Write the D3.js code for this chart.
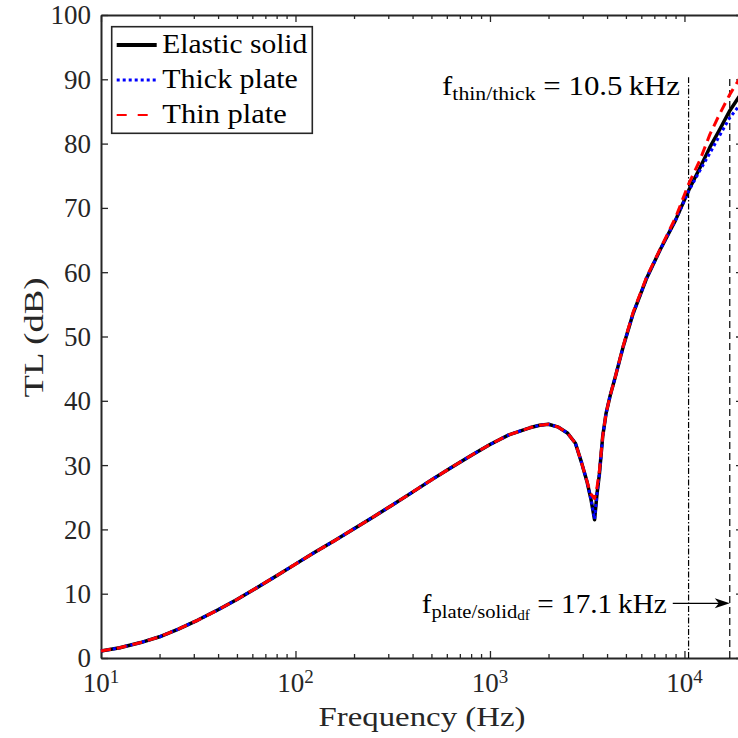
<!DOCTYPE html>
<html>
<head>
<meta charset="utf-8">
<script src="https://cdn.jsdelivr.net/npm/d3@7"></script>
<style>
  html, body { margin: 0; padding: 0; background: #fff; }
  text { font-family: "Liberation Serif", "Times New Roman", serif; white-space: pre; }
</style>
</head>
<body>
<script>
// Transmission loss curves (dB) vs frequency (Hz)
const freq = [10, 12.5, 16, 20, 25, 31.5, 40, 50, 63, 80, 100, 125, 160, 200, 250, 315, 400, 500, 630, 800,
  1000, 1250, 1600, 1800, 2000, 2250, 2500, 2750, 2950, 3150, 3300, 3450, 3550, 3650, 3800, 3950, 4150, 4400,
  4850, 5450, 6400, 7500, 9000, 10500, 12000, 13500, 15000, 17000, 19000, 20000];
const elasticSolid = [1.1, 1.6, 2.4, 3.3, 4.5, 5.9, 7.5, 9.1, 10.9, 12.8, 14.6, 16.4, 18.3, 20.1, 21.9, 23.8, 25.8, 27.7, 29.6, 31.5,
  33.2, 34.7, 35.8, 36.2, 36.35, 35.9, 35.0, 33.4, 30.5, 27.5, 24.8, 21.5, 25.5, 28.5, 34.5, 38.0, 40.8, 43.6,
  48.5, 53.6, 59.1, 63.5, 68.1, 72.7, 76.2, 79.4, 81.9, 85.0, 87.2, 88.2];
const thickPlate = [1.1, 1.6, 2.4, 3.3, 4.5, 5.9, 7.5, 9.1, 10.9, 12.8, 14.6, 16.4, 18.3, 20.1, 21.9, 23.8, 25.8, 27.7, 29.6, 31.5,
  33.2, 34.7, 35.8, 36.2, 36.35, 35.9, 35.0, 33.4, 30.5, 27.5, 24.8, 21.6, 25.5, 28.5, 34.5, 38.0, 40.8, 43.6,
  48.5, 53.6, 59.1, 63.5, 68.1, 72.6, 75.8, 78.5, 81.0, 83.9, 85.8, 86.7];
const thinPlate = [1.1, 1.6, 2.4, 3.3, 4.5, 5.9, 7.5, 9.1, 10.9, 12.8, 14.6, 16.4, 18.3, 20.1, 21.9, 23.8, 25.8, 27.7, 29.6, 31.5,
  33.2, 34.7, 35.8, 36.2, 36.35, 35.9, 35.0, 33.4, 30.5, 27.5, 25.5, 24.8, 26.5, 29.0, 34.5, 38.0, 40.8, 43.6,
  48.6, 53.8, 59.3, 63.6, 68.5, 73.7, 77.4, 81.4, 84.3, 87.5, 89.9, 91.0];

const seriesNames = ["Elastic solid", "Thick plate", "Thin plate"];
const xMajorTicks = [10, 100, 1000, 10000];
const xMajorExp = ["1", "2", "3", "4"];
const xMinorTicks = [2,3,4,5,6,7,8,9].flatMap(m => [10, 100, 1000].map(d => m * d)).concat([20000]);
const yTicks = [0, 10, 20, 30, 40, 50, 60, 70, 80, 90, 100];

// Transition frequencies marked by vertical lines
const markerFreq = [10500, 17100];
const markerTop = 90.3;
const markerLabels = [
  { main: "f", sub: "thin/thick", subsub: "", rest: " = 10.5\u2009kHz" },
  { main: "f", sub: "plate/solid", subsub: "df", rest: " = 17.1\u2009kHz" }
];

const W = 738, H = 738;
const svg = d3.select("body").append("svg")
  .attr("width", W).attr("height", H)
  .style("overflow", "hidden");

const x = d3.scaleLog().domain([10, 20000]).range([101, 743]);
const y = d3.scaleLinear().domain([0, 100]).range([658, 15]);

const axisColor = "#262626";
const fontSize = 27;

function styleAxis(g, tickW) {
  g.attr("font-family", null).attr("font-size", null);
  g.select(".domain").attr("stroke", axisColor).attr("stroke-width", 2);
  g.selectAll(".tick line").attr("stroke", axisColor).attr("stroke-width", tickW);
  g.selectAll(".tick text").attr("fill", axisColor).attr("font-size", fontSize);
}

// Bottom axis: major + minor ticks pointing inward
const gxb = svg.append("g").attr("transform", `translate(0,${y(0)})`)
  .call(d3.axisBottom(x).tickValues(xMajorTicks).tickSize(-7).tickSizeOuter(0).tickFormat(""));
styleAxis(gxb, 1.3);
const gxbm = svg.append("g").attr("transform", `translate(0,${y(0)})`)
  .call(d3.axisBottom(x).tickValues(xMinorTicks).tickSize(-4).tickSizeOuter(0).tickFormat(""));
styleAxis(gxbm, 1.3);
gxbm.select(".domain").remove();

// Top axis
const gxt = svg.append("g").attr("transform", `translate(0,${y(100)})`)
  .call(d3.axisTop(x).tickValues(xMajorTicks).tickSize(-7).tickSizeOuter(0).tickFormat(""));
styleAxis(gxt, 1.3);
const gxtm = svg.append("g").attr("transform", `translate(0,${y(100)})`)
  .call(d3.axisTop(x).tickValues(xMinorTicks).tickSize(-4).tickSizeOuter(0).tickFormat(""));
styleAxis(gxtm, 1.3);
gxtm.select(".domain").remove();

// Left axis with labels
const gyl = svg.append("g").attr("transform", `translate(${x(10)},0)`)
  .call(d3.axisLeft(y).tickValues(yTicks).tickSize(-7).tickSizeOuter(0).tickPadding(10).tickFormat(d3.format("d")));
styleAxis(gyl, 1.3);
gyl.selectAll(".tick text").attr("dy", "0.33em");

// Right axis
const gyr = svg.append("g").attr("transform", `translate(${x(20000)},0)`)
  .call(d3.axisRight(y).tickValues(yTicks).tickSize(-7).tickSizeOuter(0).tickFormat(""));
styleAxis(gyr, 1.3);

// Decade labels 10^n
const xl = svg.append("g");
xMajorTicks.forEach((v, i) => {
  const t = xl.append("text")
    .attr("x", x(v)).attr("y", 692)
    .attr("text-anchor", "middle")
    .attr("font-size", fontSize).attr("fill", axisColor);
  t.append("tspan").text("10");
  t.append("tspan").attr("font-size", 19).attr("dy", -9).text(xMajorExp[i]);
});

// Axis titles
svg.append("text")
  .attr("x", (x(10) + x(20000)) / 2).attr("y", 726)
  .attr("text-anchor", "middle").attr("font-size", fontSize).attr("fill", axisColor)
  .attr("textLength", 207).attr("lengthAdjust", "spacingAndGlyphs")
  .text("Frequency (Hz)");
svg.append("text")
  .attr("transform", `translate(43,${(y(0) + y(100)) / 2 + 1}) rotate(-90)`)
  .attr("text-anchor", "middle").attr("font-size", fontSize).attr("fill", axisColor)
  .attr("textLength", 120).attr("lengthAdjust", "spacingAndGlyphs")
  .text("TL (dB)");

// Vertical transition markers
const markerDash = ["6,2,1.5,2", "7,4"];
markerFreq.forEach((f, i) => {
  svg.append("line")
    .attr("x1", x(f)).attr("x2", x(f))
    .attr("y1", y(0)).attr("y2", y(markerTop))
    .attr("stroke", "#000").attr("stroke-width", 1.2)
    .attr("stroke-dasharray", markerDash[i]);
});

// Curves
const line = d3.line().x(d => x(d.f)).y(d => y(d.v));
const toPts = arr => freq.map((f, i) => ({ f, v: arr[i] }));
const seriesStyle = [
  { data: elasticSolid, color: "#000000", width: 3.5, dash: null },
  { data: thickPlate, color: "#0000ff", width: 3, dash: "3,3" },
  { data: thinPlate, color: "#ff0000", width: 3, dash: "10,6" }
];
seriesStyle.forEach(s => {
  svg.append("path")
    .datum(toPts(s.data))
    .attr("d", line)
    .attr("fill", "none")
    .attr("stroke", s.color)
    .attr("stroke-width", s.width)
    .attr("stroke-linejoin", "round")
    .attr("stroke-dasharray", s.dash);
});

// Annotation labels
function annot(spec, xEnd, yBase, len) {
  const t = svg.append("text")
    .attr("x", xEnd).attr("y", yBase)
    .attr("text-anchor", "end")
    .attr("font-size", fontSize).attr("fill", "#000")
    .attr("textLength", len).attr("lengthAdjust", "spacingAndGlyphs");
  t.append("tspan").text(spec.main);
  t.append("tspan").attr("font-size", 19).attr("dy", 4.5).text(spec.sub);
  let back = -4.5;
  if (spec.subsub) {
    t.append("tspan").attr("font-size", 14).attr("dy", 2.5).text(spec.subsub);
    back = -7;
  }
  t.append("tspan").attr("dy", back).text(spec.rest);
  return t;
}
annot(markerLabels[0], x(markerFreq[0]) - 8.5, 95, 238);
const a2End = x(markerFreq[1]) - 63;
annot(markerLabels[1], a2End, 613, 245);

// Arrow pointing at the second marker
const ay = 603.3;
const tipX = x(markerFreq[1]);
svg.append("line")
  .attr("x1", a2End + 6).attr("x2", tipX - 10)
  .attr("y1", ay).attr("y2", ay)
  .attr("stroke", "#000").attr("stroke-width", 1.2);
svg.append("path")
  .attr("d", `M${tipX},${ay} L${tipX - 15},${ay - 5} L${tipX - 11},${ay} L${tipX - 15},${ay + 5} Z`)
  .attr("fill", "#000");

// Legend
const lg = svg.append("g");
lg.append("rect")
  .attr("x", 111.7).attr("y", 26.7).attr("width", 200.6).attr("height", 106.6)
  .attr("fill", "#fff").attr("stroke", axisColor).attr("stroke-width", 1.6);
const legendRows = [45, 80, 115];
const legendTextLen = [145, 135.5, 124.5];
const legendStyle = [
  { color: "#000000", width: 4, dash: null },
  { color: "#0000ff", width: 3, dash: "3,3" },
  { color: "#ff0000", width: 2, dash: "10,11" }
];
seriesNames.forEach((name, i) => {
  lg.append("line")
    .attr("x1", 116.7).attr("x2", 156.7)
    .attr("y1", legendRows[i]).attr("y2", legendRows[i])
    .attr("stroke", legendStyle[i].color)
    .attr("stroke-width", legendStyle[i].width)
    .attr("stroke-dasharray", legendStyle[i].dash);
  lg.append("text")
    .attr("x", 162.3).attr("y", legendRows[i] + 8)
    .attr("font-size", fontSize).attr("fill", "#000")
    .attr("textLength", legendTextLen[i]).attr("lengthAdjust", "spacingAndGlyphs")
    .text(name);
});
</script>
</body>
</html>
